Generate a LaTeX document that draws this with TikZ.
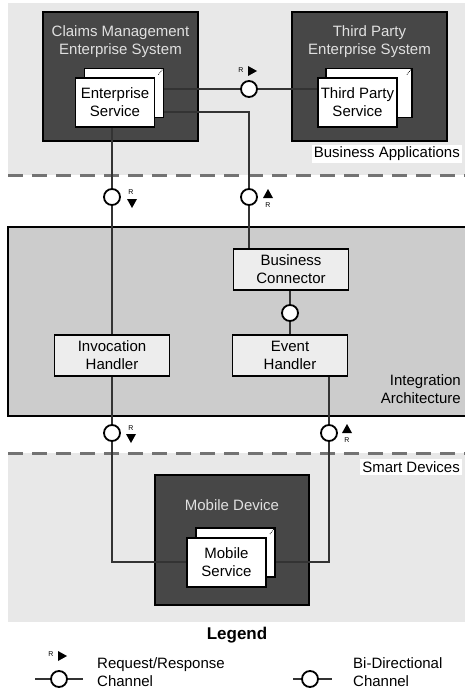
\documentclass[tikz,border=0pt]{standalone}
\usepackage{fontspec}
\setmainfont{Liberation Sans}
\usepackage{tikz}
\usetikzlibrary{positioning}

\begin{document}
\begin{tikzpicture}[
        x=1pt, y=-1pt,
        font=\fontsize{15}{18}\selectfont,
        zone/.style={fill=black!9},
        sys/.style={draw=black, line width=1.6pt, fill=black!72,
                    minimum width=155pt, minimum height=129pt},
        systxt/.style={text=black!12, align=center},
        card/.style={draw=black, line width=1.6pt, fill=white,
                     minimum width=79pt, minimum height=49pt,
                     align=center, inner sep=0pt},
        comp/.style={draw=black, line width=1.6pt, fill=black!7,
                     minimum width=115pt, minimum height=41pt, align=center},
        chan/.style={circle, draw=black, line width=1.8pt, fill=white,
                     minimum size=16pt, inner sep=0pt},
        conn/.style={black!80, line width=1.1pt},
        sep/.style={black!55, line width=3pt, dash pattern=on 15pt off 9pt},
        tag/.style={fill=white, inner sep=2pt},
        rtxt/.style={font=\fontsize{7}{8}\selectfont, inner sep=0pt},
        cornermark/.style={densely dotted, line width=0.8pt},
      ]
        \useasboundingbox (0,0) rectangle (465,690);

        % -- zones --
        \fill[zone] (8,3) rectangle (465,175);
        \fill[zone] (8,453) rectangle (465,622);
        \draw[line width=1.6pt, fill=black!20] (8,227) rectangle (468,416);
        \draw[sep] (8,175) -- (465,175);
        \draw[sep] (8,453) -- (465,453);

        \node[tag, anchor=east] (lbiz) at (462,154) {Business Applications};
        \node[tag, anchor=east] (lsmart) at (462,467) {Smart Devices};
        \node[align=right, anchor=east, inner sep=0pt] (lint) at (461,389)
          {Integration\\Architecture};

        % -- business applications --
        \node[sys] (cms) at (120.5,76.5) {};
        \node[sys] (tpes) at (369.5,76.5) {};
        \node[systxt] (tcms) at (120.5,42) {Claims Management\\Enterprise System};
        \node[systxt] (ttpes) at (369.5,42) {Third Party\\Enterprise System};

        \node[card] (esb) at (124,93) {};
        \node[card] (esf) at (115,102.5) {Enterprise\\Service};
        \node[card, minimum width=86pt] (tpb) at (369,93) {};
        \node[card] (tpf) at (357.5,102.5) {Third Party\\Service};
        \draw[cornermark] ([shift={(-2pt,-2pt)}]esb.north east) -- ++(-4pt,-5pt);
        \draw[cornermark] ([shift={(-2pt,-2pt)}]tpb.north east) -- ++(-4pt,-5pt);

        % -- integration architecture --
        \node[comp] (bc) at (291,269.5) {Business\\Connector};
        \node[comp] (eh) at (290,355.5) {Event\\Handler};
        \node[comp] (ih) at (112,355.5) {Invocation\\Handler};

        % -- smart devices --
        \node[sys, minimum width=154pt, minimum height=130pt] (mob) at (232,540) {};
        \node[systxt] (tmob) at (232,505) {Mobile Device};
        \node[card] (msb) at (235.5,552.5) {};
        \node[card] (msf) at (226.5,562.5) {Mobile\\Service};
        \draw[cornermark] ([shift={(-2pt,-2pt)}]msb.north east) -- ++(-4pt,-5pt);

        % -- channels --
        \node[chan] (ch1) at (249,89) {};
        \node[chan] (ch2) at (112,197) {};
        \node[chan] (ch3) at (249,197) {};
        \node[chan] (ch4) at (290,313) {};
        \node[chan] (ch5) at (112,433) {};
        \node[chan] (ch6) at (329,433) {};
        \coordinate (k1) at (249,112);
        \coordinate (k2) at (112,562);
        \coordinate (k3) at (329,562);

        \draw[conn] (ch1 -| esb.east) -- (ch1);
        \draw[conn] (ch1) -- (ch1 -| tpf.west);
        \draw[conn] (k1 -| esb.east) -- (k1) -- (ch3);
        \draw[conn] (ch3) -- (ch3 |- bc.north);
        \draw[conn] (ch2 |- esf.south) -- (ch2);
        \draw[conn] (ch2) -- (ch2 |- ih.north);
        \draw[conn] (ch4 |- bc.south) -- (ch4);
        \draw[conn] (ch4) -- (ch4 |- eh.north);
        \draw[conn] (ih.south) -- (ch5);
        \draw[conn] (ch5) -- (k2) -- (k2 -| msf.west);
        \draw[conn] (ch6 |- eh.south) -- (ch6);
        \draw[conn] (ch6) -- (k3) -- (k3 -| msb.east);

        % -- direction tags --
        \node[rtxt] (r1) at (241,70) {R};
        \fill (248,66) -- (257,71) -- (248,76) -- cycle;
        \node[rtxt] (r2) at (131,192) {R};
        \fill (127,199) -- (137,199) -- (132,208) -- cycle;
        \node[rtxt] (r3) at (268,205) {R};
        \fill (263,198) -- (273,198) -- (268,189) -- cycle;
        \node[rtxt] (r5) at (131,428) {R};
        \fill (126,434) -- (136,434) -- (131,443) -- cycle;
        \node[rtxt] (r6) at (347,440) {R};
        \fill (342,433) -- (352,433) -- (347,424) -- cycle;

        % -- legend --
        \node[font=\fontsize{17}{20}\selectfont\bfseries] (leg) at (237,635) {Legend};
        \node[chan] (lg1) at (59,679) {};
        \coordinate (lg1a) at (35,679);
        \coordinate (lg1b) at (83,679);
        \draw[conn] (lg1a) -- (lg1);
        \draw[conn] (lg1) -- (lg1b);
        \node[rtxt] (rl) at (51,654) {R};
        \fill (58,651) -- (67,656) -- (58,661) -- cycle;
        \node[anchor=west, align=left, inner sep=0pt] (lgt1) at (97,672)
          {Request/Response\\Channel};

        \node[chan] (lg2) at (310,679) {};
        \coordinate (lg2a) at (293,679);
        \coordinate (lg2b) at (332,679);
        \draw[conn] (lg2a) -- (lg2);
        \draw[conn] (lg2) -- (lg2b);
        \node[anchor=west, align=left, inner sep=0pt] (lgt2) at (353,672)
          {Bi-Directional\\Channel};
      \end{tikzpicture}
\end{document}
